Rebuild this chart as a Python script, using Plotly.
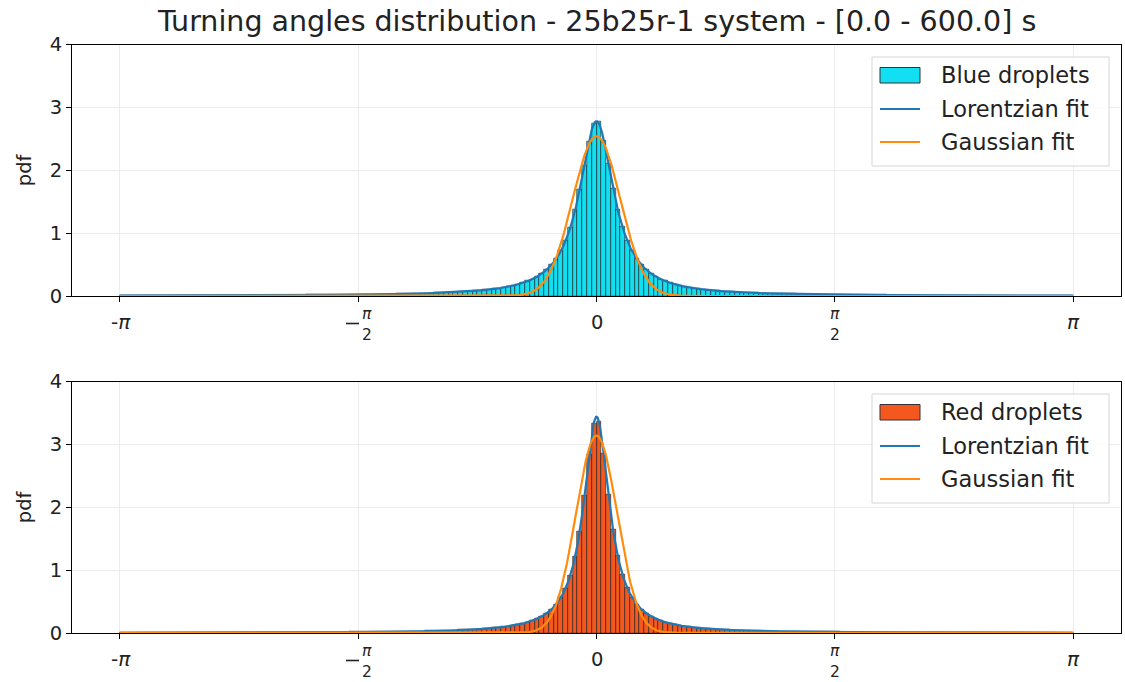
import numpy as np
import plotly.graph_objects as go

W, H = 1125, 682

# ---------------- data ----------------
n_bins = 200
angle_min, angle_max = -np.pi, np.pi

blue_hist = [
    0.007, 0.007, 0.007, 0.007, 0.007, 0.008, 0.008, 0.008, 0.008, 0.008,
    0.008, 0.008, 0.009, 0.009, 0.009, 0.009, 0.009, 0.009, 0.010, 0.010,
    0.010, 0.010, 0.010, 0.010, 0.011, 0.011, 0.011, 0.011, 0.012, 0.012,
    0.012, 0.013, 0.013, 0.013, 0.014, 0.014, 0.014, 0.015, 0.015, 0.016,
    0.016, 0.017, 0.017, 0.018, 0.019, 0.019, 0.020, 0.021, 0.021, 0.022,
    0.023, 0.024, 0.025, 0.026, 0.027, 0.028, 0.029, 0.031, 0.032, 0.033,
    0.035, 0.037, 0.039, 0.041, 0.043, 0.045, 0.048, 0.051, 0.054, 0.058,
    0.062, 0.066, 0.071, 0.076, 0.082, 0.089, 0.096, 0.104, 0.113, 0.124,
    0.137, 0.152, 0.169, 0.189, 0.21, 0.24, 0.27, 0.31, 0.36, 0.42,
    0.50, 0.59, 0.72, 0.88, 1.09, 1.37, 1.70, 2.08, 2.46, 2.75,
    2.77, 2.48, 2.11, 1.71, 1.38, 1.11, 0.89, 0.72, 0.60, 0.50,
    0.42, 0.36, 0.31, 0.27, 0.24, 0.21, 0.187, 0.168, 0.151, 0.136,
    0.124, 0.113, 0.104, 0.095, 0.088, 0.082, 0.076, 0.070, 0.066, 0.061,
    0.058, 0.054, 0.051, 0.048, 0.045, 0.043, 0.041, 0.039, 0.037, 0.035,
    0.033, 0.032, 0.031, 0.029, 0.028, 0.027, 0.026, 0.025, 0.024, 0.023,
    0.022, 0.021, 0.021, 0.020, 0.019, 0.019, 0.018, 0.017, 0.017, 0.016,
    0.016, 0.015, 0.015, 0.014, 0.014, 0.014, 0.013, 0.013, 0.013, 0.012,
    0.012, 0.012, 0.011, 0.011, 0.011, 0.011, 0.010, 0.010, 0.010, 0.010,
    0.010, 0.009, 0.009, 0.009, 0.009, 0.009, 0.009, 0.008, 0.008, 0.008,
    0.008, 0.008, 0.008, 0.008, 0.007, 0.007, 0.007, 0.007, 0.007, 0.007,
]

red_hist = [
    0.005, 0.005, 0.005, 0.005, 0.006, 0.006, 0.006, 0.006, 0.006, 0.006,
    0.006, 0.006, 0.006, 0.007, 0.007, 0.007, 0.007, 0.007, 0.007, 0.007,
    0.007, 0.008, 0.008, 0.008, 0.008, 0.008, 0.008, 0.009, 0.009, 0.009,
    0.009, 0.009, 0.010, 0.010, 0.010, 0.010, 0.011, 0.011, 0.011, 0.012,
    0.012, 0.012, 0.013, 0.013, 0.014, 0.014, 0.015, 0.015, 0.016, 0.016,
    0.017, 0.018, 0.018, 0.019, 0.020, 0.021, 0.022, 0.023, 0.024, 0.025,
    0.026, 0.027, 0.029, 0.030, 0.032, 0.034, 0.036, 0.038, 0.040, 0.043,
    0.045, 0.048, 0.051, 0.055, 0.059, 0.063, 0.068, 0.074, 0.080, 0.088,
    0.097, 0.107, 0.119, 0.133, 0.150, 0.170, 0.196, 0.23, 0.27, 0.31,
    0.37, 0.45, 0.56, 0.71, 0.91, 1.21, 1.62, 2.18, 2.84, 3.33,
    3.36, 2.86, 2.21, 1.64, 1.23, 0.93, 0.72, 0.57, 0.46, 0.38,
    0.31, 0.27, 0.23, 0.20, 0.17, 0.152, 0.135, 0.120, 0.108, 0.098,
    0.089, 0.081, 0.074, 0.068, 0.062, 0.058, 0.054, 0.050, 0.047, 0.044,
    0.041, 0.039, 0.037, 0.035, 0.033, 0.031, 0.029, 0.028, 0.027, 0.025,
    0.024, 0.023, 0.022, 0.021, 0.020, 0.019, 0.019, 0.018, 0.017, 0.017,
    0.016, 0.015, 0.015, 0.014, 0.014, 0.013, 0.013, 0.012, 0.012, 0.012,
    0.011, 0.011, 0.011, 0.010, 0.010, 0.010, 0.010, 0.009, 0.009, 0.009,
    0.009, 0.009, 0.008, 0.008, 0.008, 0.008, 0.008, 0.008, 0.007, 0.007,
    0.007, 0.007, 0.007, 0.007, 0.007, 0.007, 0.006, 0.006, 0.006, 0.006,
    0.006, 0.006, 0.006, 0.006, 0.006, 0.006, 0.005, 0.005, 0.005, 0.005,
]

# fit parameters (amplitude, centre, width)
blue_lorentz = dict(A=2.78, x0=0.0, gamma=0.138)
blue_gauss = dict(A=2.54, mu=0.0, sigma=0.157)
red_lorentz = dict(A=3.44, x0=0.0, gamma=0.104)
red_gauss = dict(A=3.14, mu=0.0, sigma=0.135)

title_text = "Turning angles distribution - 25b25r-1 system - [0.0 - 600.0] s"
labels_top = ["Blue droplets", "Lorentzian fit", "Gaussian fit"]
labels_bot = ["Red droplets", "Lorentzian fit", "Gaussian fit"]
y_ticks = [0, 1, 2, 3, 4]

# ---------------- styling ----------------
BLUE_BAR = "#12dff2"
RED_BAR = "#f4581f"
LOR_COL = "#1f77b4"
GAU_COL = "#ff8c0e"
FONT = "DejaVu Sans"
TXT = "#222"

edges = np.linspace(angle_min, angle_max, n_bins + 1)
centers = 0.5 * (edges[:-1] + edges[1:])
bin_w = edges[1] - edges[0]
xfit = np.linspace(angle_min, angle_max, 2001)


def lorentz(x, A, x0, gamma):
    return A / (1.0 + ((x - x0) / gamma) ** 2)


def gauss(x, A, mu, sigma):
    return A * np.exp(-0.5 * ((x - mu) / sigma) ** 2)


def px(x):
    return x / W


def py(y):
    return 1 - y / H


# pixel geometry of axes
AX_L, AX_R = 72, 1121
TOP_T, TOP_B = 44.5, 296
BOT_T, BOT_B = 381.5, 633
XR = 3.4558

fig = go.Figure()

for hist, col, lp, gp, xa, ya in [
    (blue_hist, BLUE_BAR, blue_lorentz, blue_gauss, "x", "y"),
    (red_hist, RED_BAR, red_lorentz, red_gauss, "x2", "y2"),
]:
    fig.add_trace(go.Bar(x=centers, y=hist, width=bin_w, xaxis=xa, yaxis=ya,
                         marker=dict(color=col, line=dict(color="#1a1a1a", width=0.6)),
                         showlegend=False, hoverinfo="skip"))
    fig.add_trace(go.Scatter(x=xfit, y=lorentz(xfit, **lp), mode="lines", xaxis=xa, yaxis=ya,
                             line=dict(color=LOR_COL, width=2.2), showlegend=False))
    fig.add_trace(go.Scatter(x=xfit, y=gauss(xfit, **gp), mode="lines", xaxis=xa, yaxis=ya,
                             line=dict(color=GAU_COL, width=2.2), showlegend=False))

xtickvals = [-np.pi, -np.pi / 2, 0, np.pi / 2, np.pi]

axis_common = dict(showline=True, mirror=True, linecolor="black", linewidth=1.1,
                   ticks="outside", ticklen=5, tickcolor="black", tickwidth=1,
                   showgrid=True, gridcolor="#ececec", gridwidth=1, zeroline=False,
                   automargin=False)

fig.update_layout(
    width=W, height=H, margin=dict(l=0, r=0, t=0, b=0, pad=0, autoexpand=False),
    plot_bgcolor="white", paper_bgcolor="white", bargap=0, barmode="overlay",
    showlegend=False,
    font=dict(family=FONT, size=19, color=TXT),
    xaxis=dict(domain=[px(AX_L), px(AX_R)], range=[-XR, XR], anchor="y",
               tickvals=xtickvals, showticklabels=False, **axis_common),
    yaxis=dict(domain=[py(TOP_B), py(TOP_T)], range=[0, 4], anchor="x",
               tickvals=y_ticks, tickfont=dict(size=19.5, color=TXT), **axis_common),
    xaxis2=dict(domain=[px(AX_L), px(AX_R)], range=[-XR, XR], anchor="y2",
                tickvals=xtickvals, showticklabels=False, **axis_common),
    yaxis2=dict(domain=[py(BOT_B), py(BOT_T)], range=[0, 4], anchor="x2",
                tickvals=y_ticks, tickfont=dict(size=19.5, color=TXT), **axis_common),
)

ann = []
shapes = []

# title
ann.append(dict(x=px((AX_L + AX_R) / 2), y=py(22), xref="paper", yref="paper",
                text=title_text, showarrow=False, font=dict(size=28.5, color=TXT),
                xanchor="center", yanchor="middle"))

for off, t, b in [(0, TOP_T, TOP_B), (337, BOT_T, BOT_B)]:
    # y label
    ann.append(dict(x=px(24), y=py((t + b) / 2), xref="paper", yref="paper", text="pdf",
                    textangle=-90, showarrow=False, font=dict(size=19.5, color=TXT),
                    xanchor="center", yanchor="middle"))
    # x tick labels
    xpix = {k: 597 + v * 476 / np.pi for k, v in zip(range(5), xtickvals)}
    ann.append(dict(x=px(xpix[0]), y=py(322 + off), xref="paper", yref="paper",
                    text="-<i>π</i>", showarrow=False, font=dict(size=20, color=TXT),
                    xanchor="center", yanchor="middle"))
    ann.append(dict(x=px(xpix[2]), y=py(322 + off), xref="paper", yref="paper",
                    text="0", showarrow=False, font=dict(size=19.5, color=TXT),
                    xanchor="center", yanchor="middle"))
    ann.append(dict(x=px(xpix[4]), y=py(322 + off), xref="paper", yref="paper",
                    text="<i>π</i>", showarrow=False, font=dict(size=20, color=TXT),
                    xanchor="center", yanchor="middle"))
    for idx, sign, fx in [(1, True, 8), (3, False, 0)]:
        cx = xpix[idx] + fx
        ann.append(dict(x=px(cx), y=py(314 + off), xref="paper", yref="paper",
                        text="<i>π</i>", showarrow=False, font=dict(size=15.5, color=TXT),
                        xanchor="center", yanchor="middle"))
        ann.append(dict(x=px(cx), y=py(334.5 + off), xref="paper", yref="paper",
                        text="2", showarrow=False, font=dict(size=15.5, color=TXT),
                        xanchor="center", yanchor="middle"))
        if sign:
            shapes.append(dict(type="line", xref="paper", yref="paper",
                               x0=px(cx - 21), x1=px(cx - 8), y0=py(323.5 + off), y1=py(323.5 + off),
                               line=dict(color=TXT, width=1.6)))

    # legend box
    labels = labels_top if off == 0 else labels_bot
    col = BLUE_BAR if off == 0 else RED_BAR
    shapes.append(dict(type="rect", xref="paper", yref="paper",
                       x0=px(872), x1=px(1109), y0=py(57 + off), y1=py(166 + off),
                       line=dict(color="#d6d6d6", width=1), fillcolor="rgba(255,255,255,0.85)",
                       layer="above"))
    shapes.append(dict(type="rect", xref="paper", yref="paper",
                       x0=px(880), x1=px(920), y0=py(67.5 + off), y1=py(83 + off),
                       line=dict(color="#333", width=1), fillcolor=col, layer="above"))
    for yy, c in [(109, LOR_COL), (142, GAU_COL)]:
        shapes.append(dict(type="line", xref="paper", yref="paper",
                           x0=px(880), x1=px(920), y0=py(yy + off), y1=py(yy + off),
                           line=dict(color=c, width=2.2), layer="above"))
    for yy, lab in zip([75, 109, 142], labels):
        ann.append(dict(x=px(939), y=py(yy + off), xref="paper", yref="paper",
                        text=lab, showarrow=False, font=dict(size=22.5, color=TXT),
                        xanchor="left", yanchor="middle"))

fig.update_layout(annotations=ann, shapes=shapes)
fig.write_html("out.html")
